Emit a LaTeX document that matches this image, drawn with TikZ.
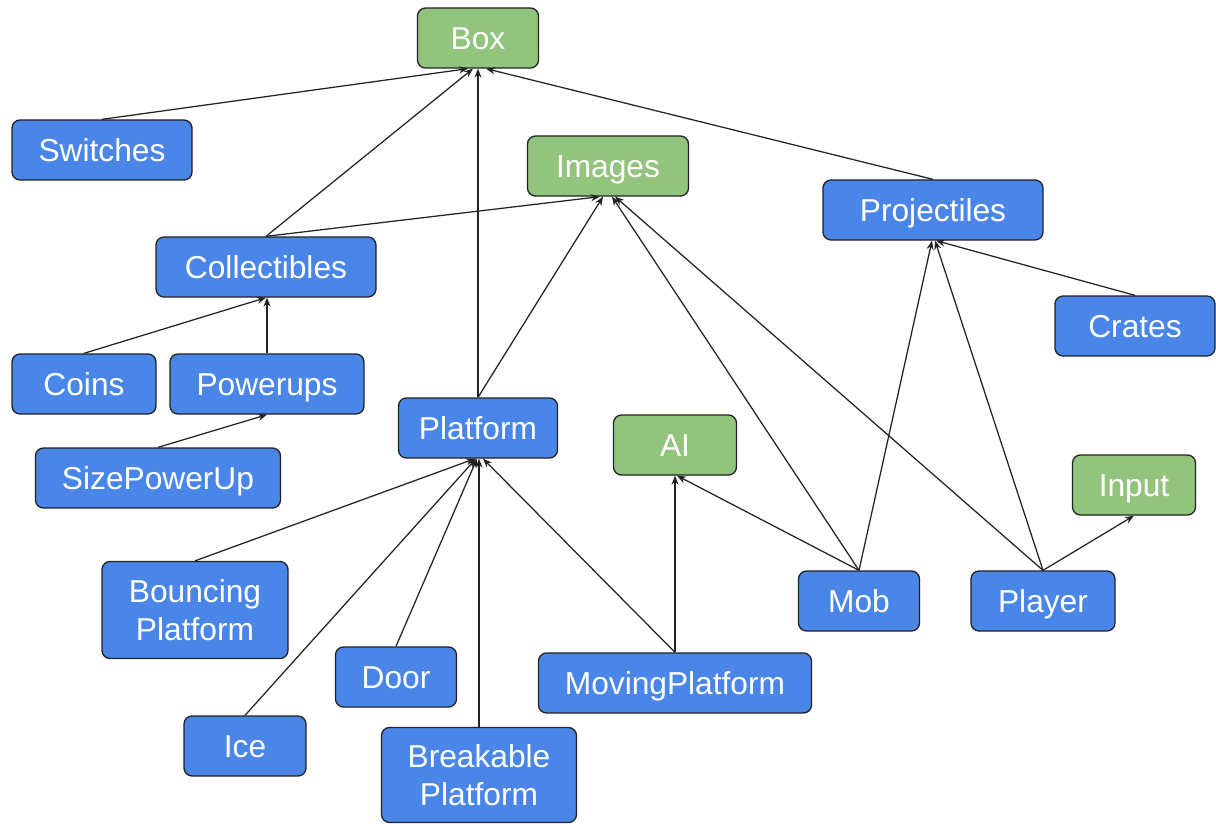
\documentclass[tikz,border=0pt]{standalone}
\usepackage{fontspec}
\setmainfont{Liberation Sans}
\usetikzlibrary{arrows.meta}
\definecolor{gblue}{HTML}{4A86E8}
\definecolor{ggreen}{HTML}{93C47D}
\definecolor{edge}{HTML}{222222}
\begin{document}
\begin{tikzpicture}[x=1pt,y=-1pt,
  nb/.style={draw=edge, line width=1.3pt, rounded corners=8pt, inner sep=0pt,
    text=white, font=\fontsize{31.7}{38}\selectfont, align=center},
  one/.style={text height=22.7pt, text depth=0pt},
  bl/.style={nb, fill=gblue},
  gr/.style={nb, fill=ggreen},
  sz/.style 2 args={minimum width=#1pt, minimum height=#2pt},
  ar/.style={draw=edge, line width=1.25pt, -{Stealth[length=9pt,width=7pt]}}]
\useasboundingbox (0,0) rectangle (1216,824);
% nodes
\node[gr, one, sz={121}{60}] (box) at (478,38) {Box};
\node[bl, one, sz={180}{60}] (sw) at (102,150) {Switches};
\node[gr, one, sz={161}{60}] (img) at (608,166) {Images};
\node[bl, one, sz={220}{60}] (proj) at (933,210) {Projectiles};
\node[bl, one, sz={220}{60}] (coll) at (266,267) {Collectibles};
\node[bl, one, sz={160}{60}] (crates) at (1135,326) {Crates};
\node[bl, one, sz={144}{60}] (coins) at (84,384) {Coins};
\node[bl, one, sz={194}{60}] (pow) at (267,384) {Powerups};
\node[bl, one, sz={159}{60}] (plat) at (478,428) {Platform};
\node[gr, one, sz={123}{60}] (ai) at (675,445) {AI};
\node[bl, one, sz={245}{60}] (size) at (158,478) {SizePowerUp};
\node[gr, one, sz={123}{60}] (inp) at (1134,485) {Input};
\node[bl, sz={186}{97}] (bounce) at (195,610) {Bouncing\\Platform};
\node[bl, one, sz={121}{60}] (mob) at (859,601) {Mob};
\node[bl, one, sz={144}{60}] (player) at (1043,601) {Player};
\node[bl, one, sz={121}{60}] (door) at (396,677) {Door};
\node[bl, one, sz={273}{60}] (move) at (675,683) {MovingPlatform};
\node[bl, one, sz={122}{60}] (ice) at (245,746) {Ice};
\node[bl, sz={195}{95}] (brk) at (479,775) {Breakable\\Platform};
% edges
\draw[ar] (sw.north) -- ([xshift=-10pt]box.south);
\draw[ar] (coll.north) -- ([xshift=-5pt]box.south);
\draw[ar] (plat.north) -- (box.south);
\draw[ar] (proj.north) -- ([xshift=8pt]box.south);
\draw[ar] (coll.north) -- ([xshift=-8pt]img.south);
\draw[ar] (plat.north) -- ([xshift=-5pt]img.south);
\draw[ar] (mob.north) -- ([xshift=4pt]img.south);
\draw[ar] (player.north) -- ([xshift=7pt]img.south);
\draw[ar] (crates.north) -- ([xshift=3pt]proj.south);
\draw[ar] (mob.north) -- ([xshift=-1pt]proj.south);
\draw[ar] (player.north) -- ([xshift=2pt]proj.south);
\draw[ar] (coins.north) -- (coll.south);
\draw[ar] (pow.north) -- ([xshift=1pt]coll.south);
\draw[ar] (size.north) -- (pow.south);
\draw[ar] (bounce.north) -- ([xshift=-3pt]plat.south);
\draw[ar] (ice.north) -- ([xshift=-2pt]plat.south);
\draw[ar] (door.north) -- ([xshift=-1pt]plat.south);
\draw[ar] (brk.north) -- ([xshift=1pt]plat.south);
\draw[ar] (move.north) -- ([xshift=5pt]plat.south);
\draw[ar] (move.north) -- (ai.south);
\draw[ar] (mob.north) -- ([xshift=2pt]ai.south);
\draw[ar] (player.north) -- (inp.south);
\end{tikzpicture}
\end{document}
